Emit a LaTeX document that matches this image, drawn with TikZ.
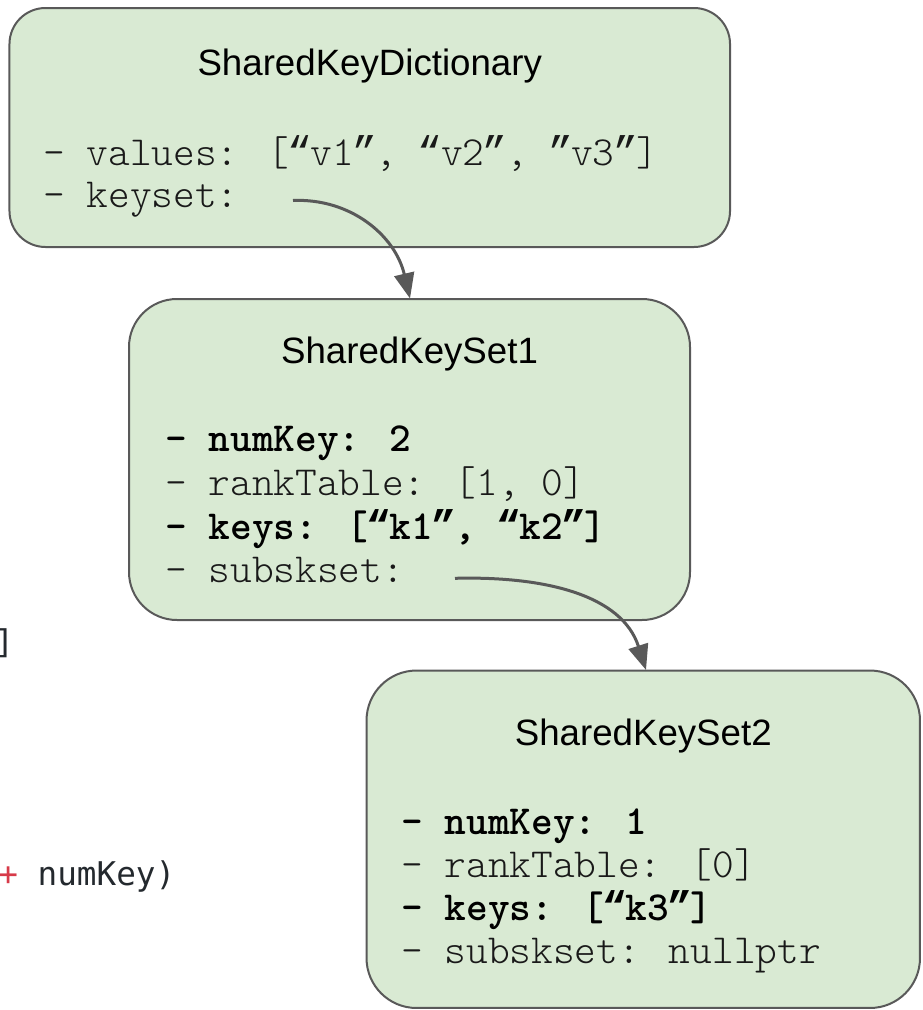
\documentclass[tikz,border=0pt]{standalone}
\usepackage{fontspec}
\setmainfont{Liberation Sans}
\newfontfamily\djm{DejaVu Sans Mono}
\newfontfamily\qfont{Liberation Mono}
\newcommand\myoq{\makebox[0.525em]{\qfont “}}
\newcommand\mycq{\makebox[0.525em]{\qfont ”}}
\usetikzlibrary{arrows.meta}
\definecolor{boxfill}{HTML}{D9EAD3}
\definecolor{boxline}{HTML}{595959}
\definecolor{codetext}{HTML}{24292E}
\definecolor{codered}{HTML}{D73A49}
\tikzset{
  structbox/.style={draw=boxline, fill=boxfill, line width=1.5pt, rectangle, inner sep=0pt},
  titletext/.style={anchor=base, inner sep=0pt, font=\fontsize{27.5pt}{33pt}\selectfont, text=black},
  fieldtext/.style={anchor=base west, inner sep=0pt, font=\ttfamily\fontseries{l}\fontsize{31pt}{36pt}\selectfont, text=black!90},
  boldfield/.style={anchor=base west, inner sep=0pt, font=\ttfamily\bfseries\fontsize{31pt}{36pt}\selectfont, text=black},
  ptr/.style={draw=boxline, line width=2.25pt, -{Triangle[length=19pt,width=15pt]}},
  bgcode/.style={anchor=base west, inner sep=0pt, font=\djm\fontsize{24.5pt}{30pt}\selectfont, text=codetext},
}
\begin{document}
\begin{tikzpicture}[x=0.75pt,y=-0.75pt]
\path[use as bounding box, clip] (0,0) rectangle (922,1010);

% background code fragments
\node[bgcode] (frag1) at (-6,653) {]};
\node[bgcode] (frag2) at (-2,885) {\textcolor{codered}{+} numKey)};

% boxes
\node[structbox, rounded corners=27pt, minimum width=540.4pt, minimum height=179.25pt] (dict) at (369.75,127.5) {};
\node[structbox, rounded corners=36pt, minimum width=420.75pt, minimum height=240.75pt] (set1) at (409.5,459.5) {};
\node[structbox, rounded corners=37.5pt, minimum width=415.1pt, minimum height=253.1pt] (set2) at (643.25,839.25) {};

% box 1 text
\node[titletext] (dictT) at (369.75,75) {SharedKeyDictionary};
\node[fieldtext] (dictV) at (43,165) {- values: [\myoq v1\mycq, \myoq v2\mycq, \mycq v3\mycq]};
\node[fieldtext] (dictK) at (43,207) {- keyset:};

% box 2 text
\node[titletext] (set1T) at (409.5,363) {SharedKeySet1};
\node[boldfield] (set1N) at (165,451) {- numKey: 2};
\node[fieldtext] (set1R) at (165,495) {- rankTable: [1, 0]};
\node[boldfield] (set1K) at (165,539) {- keys: [\myoq k1\mycq, \myoq k2\mycq]};
\node[fieldtext] (set1S) at (165,582) {- subskset:};

% box 3 text
\node[titletext] (set2T) at (643.25,745) {SharedKeySet2};
\node[boldfield] (set2N) at (401,834) {- numKey: 1};
\node[fieldtext] (set2R) at (401,877) {- rankTable: [0]};
\node[boldfield] (set2K) at (401,920) {- keys: [\myoq k3\mycq]};
\node[fieldtext] (set2S) at (401,963) {- subskset: nullptr};

% pointers
\coordinate (p1s) at (293,200.5);
\coordinate (p1e) at (410,298.5);
\coordinate (p2s) at (455,578.3);
\coordinate (p2e) at (646,670);
\draw[ptr] (p1s) .. controls (350,198) and (395,235) .. (p1e);
\draw[ptr] (p2s) .. controls (545,576) and (622,595) .. (p2e);
\end{tikzpicture}
\end{document}
